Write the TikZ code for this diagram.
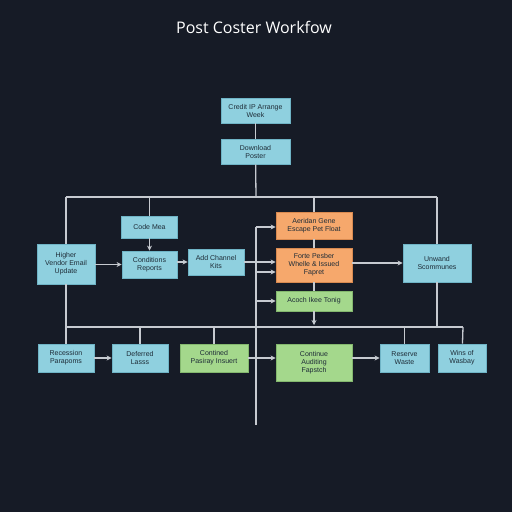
\documentclass[tikz,border=0pt]{standalone}
\usepackage{fontspec}
\setmainfont{Liberation Sans}
\newfontfamily\titlefont{Open Sans}
\usetikzlibrary{arrows.meta}
\definecolor{bg}{HTML}{161B26}
\definecolor{bluebox}{HTML}{8FD0DF}
\definecolor{blueedge}{HTML}{6FB4C6}
\definecolor{orangebox}{HTML}{F6A86C}
\definecolor{orangeedge}{HTML}{D98A50}
\definecolor{greenbox}{HTML}{A4D88C}
\definecolor{greenedge}{HTML}{84B86E}
\definecolor{wire}{HTML}{C6CAD0}
\definecolor{boxtext}{HTML}{1E2C37}
\tikzset{
  box/.style={draw=blueedge, fill=bluebox, line width=0.8pt, inner sep=1pt, align=center,
    text=boxtext, font=\fontsize{7}{8}\selectfont},
  bbox/.style={box},
  obox/.style={box, draw=orangeedge, fill=orangebox},
  gbox/.style={box, draw=greenedge, fill=greenbox},
  wire/.style={draw=wire, line width=1.3pt},
  arr/.style={wire, -{Stealth[length=5pt,width=5pt]}},
}
\newcommand{\bx}[6]{\node[#1, minimum width=#4pt, minimum height=#5pt] (#2) at #3 {#6};}
\begin{document}
\begin{tikzpicture}[x=1pt,y=-1pt]
\fill[bg] (0,0) rectangle (512,512);
\useasboundingbox (0,0) rectangle (512,512);
\node[text=white, font=\titlefont\fontsize{16}{19}\selectfont] (title) at (254,27) {Post Coster Workfow};
% top
\bx{bbox}{t1}{(255.5,110.5)}{69}{25}{Credit IP Arrange\\Week}
\bx{bbox}{t2}{(255.5,151.5)}{69}{25}{Download\\Poster}
% middle
\bx{bbox}{L}{(66,264)}{58}{40}{Higher\\Vendor Email\\Update}
\bx{bbox}{C}{(149.5,227)}{56}{22}{Code Mea}
\bx{bbox}{R}{(149.5,264.5)}{55}{27}{Conditions\\Reports}
\bx{bbox}{A}{(216,262)}{56}{26}{Add Channel\\Kits}
\bx{obox}{O1}{(314,225.5)}{76}{27}{Aeridan Gene\\Escape Pet Float}
\bx{obox}{O2}{(314,265)}{76}{34}{Forte Pesber\\Whelle \& Issued\\Fapret}
\bx{gbox}{G1}{(314,301)}{76}{20}{Acoch Ikee Tonig}
\bx{bbox}{U}{(437,263)}{68}{38}{Unwand\\Scommunes}
% bottom
\bx{bbox}{B1}{(66,358)}{56}{28}{Recession\\Parapoms}
\bx{bbox}{B2}{(140,358)}{56}{28}{Deferred\\Lasss}
\bx{gbox}{B3}{(214,358)}{68}{28}{Contined\\Pasiray Insuert}
\bx{gbox}{B4}{(314,362.5)}{76}{37}{Continue\\Auditing\\Fapstch}
\bx{bbox}{B5}{(404.5,358)}{49}{28}{Reserve\\Waste}
\bx{bbox}{B6}{(462,358)}{48}{28}{Wins of\\Wasbay}
% coordinates
\coordinate (j1) at (256,197);
\coordinate (busL) at (66,197);
\coordinate (busR) at (437,197);
\coordinate (trTop) at (256,227);
\coordinate (trBot) at (256,425);
\coordinate (b2L) at (66,327);
\coordinate (b2R) at (463,327);
\coordinate (gEnd) at (314,325);
% connectors
\draw[wire] (t1) -- (t2);
\draw[wire] (t2) -- (j1);
\draw[wire] (busL) -- (busR);
\draw[wire] (busL) -- (L);
\draw[wire] (C.north |- busL) -- (C);
\draw[wire] (O1.north |- busL) -- (O1);
\draw[wire] (busR) -- (U);
\draw[arr] (C) -- (R);
\draw[arr] (L.east |- R.west) -- (R.west);
\draw[arr] (R.east |- A.west) -- (A.west);
\draw[arr] (A.east) -- (A.east -| O2.west);
\draw[wire] (trTop) -- (trBot);
\draw[arr] (trTop) -- (trTop -| O1.west);
\draw[arr] (256,272) -- (O2.west |- 0,272);
\draw[arr] (trTop |- G1.west) -- (G1.west);
\draw[wire] (O1) -- (O2);
\draw[wire] (O2) -- (G1);
\draw[arr] (G1) -- (gEnd);
\draw[arr] (O2.east |- U.west) -- (U.west);
\draw[wire] (U) -- (U.south |- b2L);
\draw[wire] (b2L) -- (b2R);
\draw[wire] (L) -- (B1);
\draw[wire] (B2.north |- b2L) -- (B2);
\draw[wire] (B3.north |- b2L) -- (B3);
\draw[wire] (B5.north |- b2L) -- (B5);
\draw[wire] (b2R) -- (B6);
\draw[arr] (B1) -- (B2);
\draw[arr] (B3.east) -- (B3.east -| B4.west);
\draw[arr] (B4.east |- B5.west) -- (B5.west);
\end{tikzpicture}
\end{document}
